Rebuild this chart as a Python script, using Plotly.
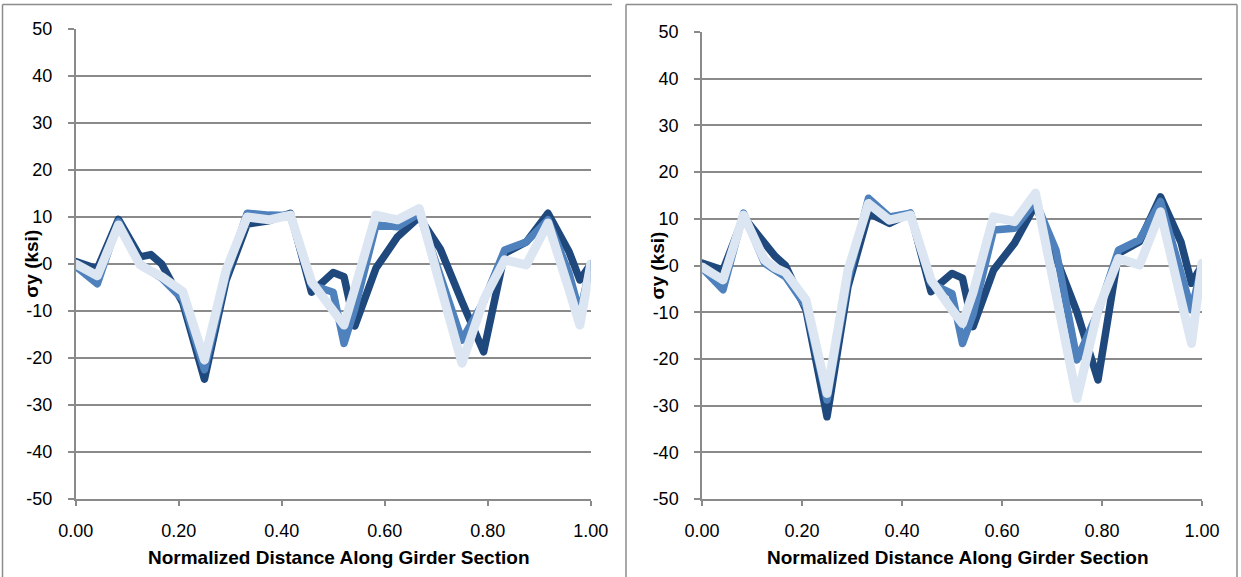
import plotly.graph_objects as go

# Normalized positions along the girder section
x_pos = [0.000, 0.042, 0.083, 0.125, 0.146, 0.167, 0.208, 0.250, 0.292, 0.333,
         0.375, 0.417, 0.458, 0.479, 0.500, 0.521, 0.542, 0.583, 0.625, 0.667,
         0.708, 0.750, 0.792, 0.833, 0.875, 0.917, 0.958, 0.979, 1.000]

# Left chart: stress sigma_y (ksi) for three cases
left_dark = [0.5, -1.0, 9.5, 1.5, 2.0, 0.0, -8.3, -24.5, -3.5, 8.5,
             9.2, 10.8, -6.0, -3.9, -1.8, -2.7, -13.2, -0.9, 5.8, 10.0,
             3.2, -8.0, -18.7, 2.3, 4.7, 10.8, 2.6, -3.4, 0.0]
left_mid = [-0.5, -4.2, 9.0, 0.0, -1.5, -3.0, -7.5, -22.5, -2.5, 10.8,
            10.4, 10.3, -4.5, -5.2, -6.0, -16.9, -9.5, 8.3, 7.9, 10.8,
            -2.0, -16.2, -8.0, 3.0, 4.7, 9.4, -2.0, -10.5, 0.0]
left_light = [0.0, -2.5, 8.3, -0.2, -1.5, -2.7, -5.9, -20.4, -1.3, 10.0,
              9.4, 10.4, -3.8, -7.0, -9.8, -13.0, -5.2, 10.4, 9.4, 11.8,
              -4.6, -21.1, -7.7, 0.9, -0.2, 8.7, -5.5, -13.0, 0.0]

# Right chart: stress sigma_y (ksi) for three cases
right_dark = [0.5, -1.0, 10.4, 5.0, 2.0, 0.0, -9.5, -32.4, -4.5, 11.2,
              9.0, 11.2, -5.6, -3.6, -1.7, -2.7, -13.1, -1.0, 4.8, 13.0,
              1.9, -10.0, -24.5, 2.6, 5.1, 14.7, 5.0, -3.8, 0.0]
right_mid = [-0.5, -5.2, 11.2, 0.5, -1.0, -2.4, -8.8, -28.8, -3.0, 14.4,
             10.4, 11.2, -3.8, -5.0, -6.0, -16.7, -10.5, 7.6, 8.0, 13.7,
             3.3, -20.2, -10.0, 3.3, 5.5, 13.7, -1.0, -9.5, 0.0]
right_light = [-0.3, -3.1, 10.8, 1.2, -0.5, -1.5, -7.4, -27.4, -1.0, 13.3,
               9.7, 10.8, -3.1, -6.5, -9.5, -12.4, -5.8, 10.4, 9.4, 15.5,
               -5.8, -28.5, -9.5, 1.5, 0.1, 11.5, -7.2, -16.7, 0.5]

x_ticks = [0.0, 0.2, 0.4, 0.6, 0.8, 1.0]
x_tick_text = ["0.00", "0.20", "0.40", "0.60", "0.80", "1.00"]
y_ticks = [-50, -40, -30, -20, -10, 0, 10, 20, 30, 40, 50]
y_tick_text = ["-50", "-40", "-30", "-20", "-10", "0",
               "10", "20", "30", "40", "50"]

x_title = "Normalized Distance Along Girder Section"
y_title = "σy (ksi)"

W, H = 1241, 577
DARK, MID, LIGHT = "#1F497D", "#4F81BD", "#DCE6F2"
GRID = "#8A8A8A"


def px(v):
    return v / W


def py(v):
    return 1 - v / H


fig = go.Figure()

panels = [
    ("x", "y", left_dark, left_mid, left_light),
    ("x2", "y2", right_dark, right_mid, right_light),
]
for xa, ya, d, m, l in panels:
    for vals, col, wid in ((d, DARK, 7.5), (m, MID, 7.5), (l, LIGHT, 9)):
        fig.add_trace(go.Scatter(
            x=x_pos, y=vals, xaxis=xa, yaxis=ya, mode="lines",
            line=dict(color=col, width=wid), showlegend=False,
            hoverinfo="skip", cliponaxis=False))

axis_common = dict(showline=True, linecolor=GRID, linewidth=1.5,
                   ticks="outside", tickcolor=GRID, tickwidth=1.5,
                   tickfont=dict(family="Liberation Sans, Arial, sans-serif",
                                 size=18, color="#000000"),
                   zeroline=False, fixedrange=True, automargin=False)

xaxis_style = dict(axis_common, range=[0, 1], tickvals=x_ticks,
                   ticktext=x_tick_text, ticklen=5, showgrid=False,
                   ticklabelstandoff=10)
yaxis_style = dict(axis_common, range=[-50, 50], tickvals=y_ticks,
                   ticktext=y_tick_text,
                   ticklen=6, showgrid=True, gridcolor=GRID, gridwidth=1.5,
                   ticklabelstandoff=12)

# Plot-area positions (pixels) for the two charts
left_box = (75.7, 590.7, 29, 499)
right_box = (702, 1202, 32, 499)

fig.update_layout(
    width=W, height=H,
    margin=dict(l=0, r=0, t=0, b=0, pad=0, autoexpand=False),
    paper_bgcolor="white", plot_bgcolor="white",
    xaxis=dict(xaxis_style, domain=[px(left_box[0]), px(left_box[1])],
               anchor="y"),
    yaxis=dict(yaxis_style, domain=[py(left_box[3]), py(left_box[2])],
               anchor="x"),
    xaxis2=dict(xaxis_style, domain=[px(right_box[0]), px(right_box[1])],
                anchor="y2"),
    yaxis2=dict(yaxis_style, domain=[py(right_box[3]), py(right_box[2])],
                anchor="x2"),
)

title_font = dict(family="Liberation Sans Narrow, Arial Narrow, sans-serif",
                  size=19, color="#000000")
for box in (left_box, right_box):
    cx = (box[0] + box[1]) / 2 + 5
    fig.add_annotation(x=px(cx), y=py(557), xref="paper", yref="paper",
                       text="<b>" + x_title + "</b>", showarrow=False,
                       font=title_font, xanchor="center", yanchor="middle")
    fig.add_annotation(x=px(box[0] - 45), y=py((box[2] + box[3]) / 2),
                       xref="paper", yref="paper",
                       text="<b>" + y_title + "</b>", showarrow=False,
                       textangle=-90, font=title_font,
                       xanchor="center", yanchor="middle")

# Chart frames
frame = dict(color="#8C8C8C", width=1.5)
for x0, y0, x1, y1 in [
        (2.5, 4.5, 612, 4.5), (2.5, 4.5, 2.5, 577),
        (626, 4.5, 1237, 4.5), (626, 4.5, 626, 577), (1237, 4.5, 1237, 577)]:
    fig.add_shape(type="line", xref="paper", yref="paper",
                  x0=px(x0), y0=py(y0), x1=px(x1), y1=py(y1), line=frame)

# Rounded joins and caps on the data lines
round_joins = """
var st = document.createElement('style');
st.textContent = '.scatterlayer path.js-line {stroke-linejoin: round !important; stroke-linecap: round !important;}';
document.head.appendChild(st);
"""

fig.write_html("out.html", post_script=round_joins)
